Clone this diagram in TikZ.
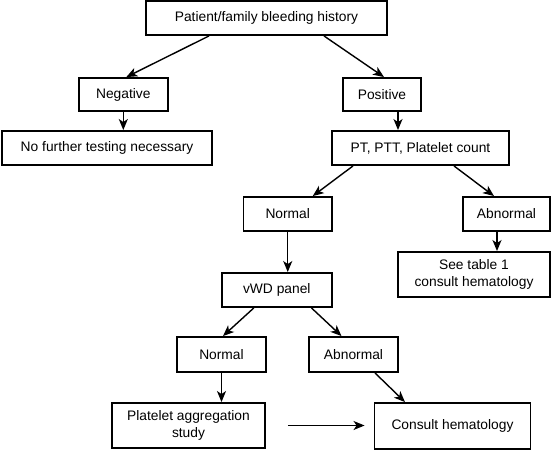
\documentclass[tikz,border=0pt]{standalone}
\usepackage{fontspec}
\setmainfont{Liberation Sans}
\usetikzlibrary{arrows.meta}
\begin{document}
\begin{tikzpicture}[x=1pt,y=-1pt,
  box/.style={draw=black, line width=1.9pt, inner sep=0pt, align=center, font=\fontsize{13.8}{16.5}\selectfont},
  arr/.style={line width=1.4pt, -{Stealth[length=11pt,width=9pt,inset=3pt]}}]
\useasboundingbox (0,0) rectangle (555,450);
\node[box, minimum width=241pt, minimum height=34pt] (top) at (266.5,18) {Patient/family bleeding history};
\node[box, minimum width=89pt, minimum height=33pt] (neg) at (123.3,94.5) {Negative};
\node[box, minimum width=78pt, minimum height=33pt] (pos) at (382,94.5) {Positive};
\node[box, minimum width=210pt, minimum height=34pt] (nof) at (107,148) {No further testing necessary};
\node[box, minimum width=177pt, minimum height=34pt] (pt) at (420.5,148) {PT, PTT, Platelet count};
\node[box, minimum width=88.5pt, minimum height=34pt] (norm1) at (287.75,214) {Normal};
\node[box, minimum width=87pt, minimum height=34pt] (abn1) at (506.5,214) {Abnormal};
\node[box, minimum width=152pt, minimum height=45pt] (see) at (474,274.5) {See table 1\\consult hematology};
\node[box, minimum width=110pt, minimum height=34pt] (vwd) at (276.8,290) {vWD panel};
\node[box, minimum width=89pt, minimum height=35pt] (norm2) at (221.5,354.5) {Normal};
\node[box, minimum width=89pt, minimum height=35pt] (abn2) at (353.5,354.5) {Abnormal};
\node[box, minimum width=153pt, minimum height=45pt] (plat) at (188.5,425.5) {Platelet aggregation\\study};
\node[box, minimum width=156pt, minimum height=46pt] (cons) at (452.5,426) {Consult hematology};
\draw[arr] ([xshift=-57.5pt]top.south) -- ([xshift=3pt]neg.north);
\draw[arr] ([xshift=57.5pt]top.south) -- ([xshift=2pt]pos.north);
\draw[arr] (neg.south) -- (neg.south |- nof.north);
\draw[arr] ([xshift=16pt]pos.south) -- ([xshift=16pt]pos.south |- pt.north);
\draw[arr] ([xshift=-67.5pt]pt.south) -- ([xshift=25pt]norm1.north);
\draw[arr] ([xshift=33.5pt]pt.south) -- ([xshift=-12.5pt]abn1.north);
\draw[arr] (norm1.south) -- (norm1.south |- vwd.north);
\draw[arr] ([xshift=-9.5pt]abn1.south) -- ([xshift=-9.5pt]abn1.south |- see.north);
\draw[arr] ([xshift=-23pt]vwd.south) -- ([xshift=1.5pt]norm2.north);
\draw[arr] ([xshift=34.7pt]vwd.south) -- ([xshift=-12pt]abn2.north);
\draw[arr] (norm2.south) -- (norm2.south |- plat.north);
\draw[arr] ([xshift=21.5pt]abn2.south) -- ([xshift=-47.5pt]cons.north);
\draw[arr] ([xshift=22pt]plat.east) -- ([xshift=-9pt]plat.east -| cons.west);
\end{tikzpicture}
\end{document}
